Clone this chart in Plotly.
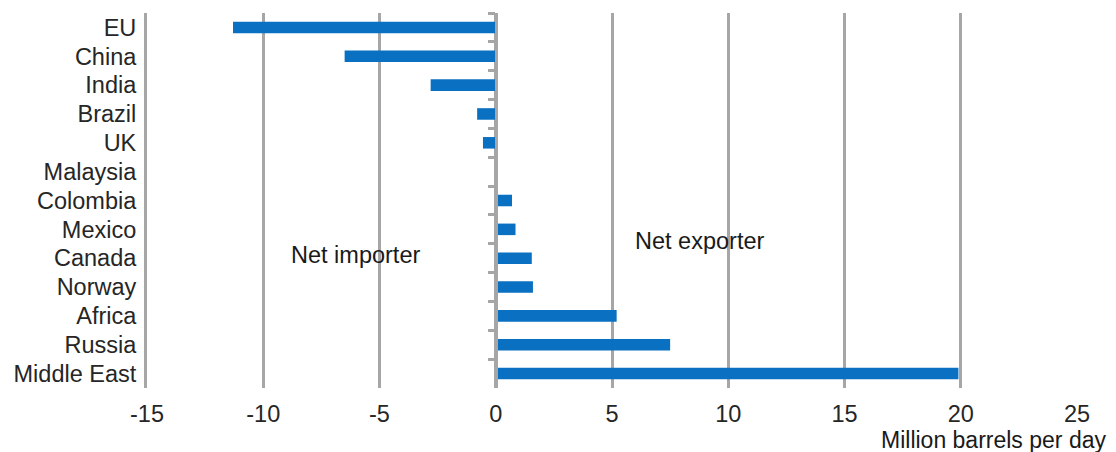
import plotly.graph_objects as go

categories = ["EU", "China", "India", "Brazil", "UK", "Malaysia", "Colombia",
              "Mexico", "Canada", "Norway", "Africa", "Russia", "Middle East"]
values = [-11.3, -6.5, -2.8, -0.8, -0.55, 0.0, 0.7, 0.85, 1.55, 1.6, 5.2, 7.5, 19.9]
x_ticks = [-15, -10, -5, 0, 5, 10, 15, 20, 25]
x_range = [-15, 25]
zero_pos = (0 - x_range[0]) / (x_range[1] - x_range[0])

GRID = "#a6a6a6"
BAR = "#0a70c2"
FONT = "Liberation Sans, Arial, sans-serif"
FS = 23.5

fig = go.Figure()
fig.add_trace(go.Bar(x=values, y=categories, orientation="h",
                     marker=dict(color=BAR, line=dict(width=0)),
                     width=0.4, showlegend=False, hoverinfo="x+y"))
# invisible trace for the zero-positioned category axis (ticks between categories)
fig.add_trace(go.Bar(x=[0] * len(categories), y=categories, orientation="h",
                     yaxis="y2", marker=dict(color="rgba(0,0,0,0)"),
                     showlegend=False, hoverinfo="skip"))

fig.update_layout(
    width=1108, height=444,
    margin=dict(l=139, r=39, t=5, b=64),
    paper_bgcolor="white", plot_bgcolor="white",
    font=dict(family=FONT, size=FS, color="#262626"),
    xaxis=dict(range=x_range, tickvals=x_ticks, ticktext=[str(t) for t in x_ticks],
               showgrid=True, gridcolor=GRID, gridwidth=3, zeroline=False,
               showline=False, ticks="", tickfont=dict(size=FS), ticklabelstandoff=9),
    yaxis=dict(categoryorder="array", categoryarray=categories, autorange="reversed",
               showline=True, linecolor=GRID, linewidth=3, ticks="", showgrid=False,
               tickfont=dict(size=FS), ticklabelstandoff=3),
    yaxis2=dict(overlaying="y", anchor="free", position=zero_pos,
                categoryorder="array", categoryarray=categories, autorange="reversed",
                showline=True, linecolor=GRID, linewidth=3, ticks="outside",
                tickson="boundaries", ticklen=7, tickwidth=3, tickcolor=GRID,
                showticklabels=False, showgrid=False, side="left"),
    annotations=[
        dict(x=-6.05, y=7.9, text="Net importer", showarrow=False,
             font=dict(size=FS, color="#1a1a1a")),
        dict(x=8.75, y=7.42, text="Net exporter", showarrow=False,
             font=dict(size=FS, color="#1a1a1a")),
        dict(x=1.0, y=0, xref="paper", yref="paper", xanchor="right", yanchor="middle",
             text="Million barrels per day", showarrow=False, yshift=-52, xshift=31,
             font=dict(size=23, color="#1a1a1a")),
    ],
)

fig.write_html("out.html")
